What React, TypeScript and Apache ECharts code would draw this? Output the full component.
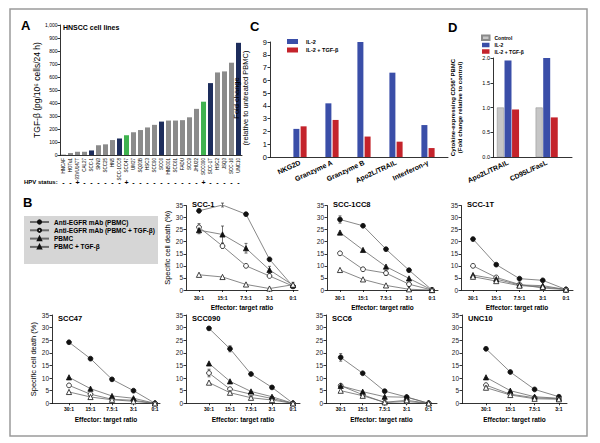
import React, { useEffect, useRef } from "react";
import * as echarts from "echarts";

const FONT = '"Liberation Sans", Arial, Helvetica, sans-serif';
const INK = "#000000";

// ---------- Panel A ----------
const cellLines = [
  "HNCAF", "HOTu1", "93VU147T", "CAL27", "SCC-1", "SKN3", "SCC25", "HN5", "SCC-1CC8", "SCC47",
  "UM27", "SQ20B", "HSC3", "SCC90", "SCC6", "HN5001", "SCC61", "FADU", "SCC9", "JHU22",
  "SCC090", "SCC-1T", "HSC2", "JSQ3", "SCC-16", "UNC10",
];
const tgfBeta = [3, 15, 25, 25, 35, 75, 82, 115, 127, 152, 175, 192, 212, 232, 257, 265, 265, 268, 290, 355, 410, 553, 635, 643, 710, 863];
const hpvStatus = ["-", "-", "+", "-", "-", "-", "-", "-", "-", "+", "-", "-", "-", "-", "-", "-", "-", "-", "-", "-", "+", "-", "-", "-", "-", "-"];
const aTicks = { min: 0, max: 1000, step: 100 };

// ---------- Panel C ----------
const cMarkers = ["NKG2D", "Granzyme A", "Granzyme B", "Apo2L/TRAIL", "Interferon-γ"];
const cIL2 = [2.2, 4.2, 9.0, 6.6, 2.5];
const cIL2TGF = [2.4, 2.9, 1.6, 1.2, 0.7];
const cYName = "Fold change\n(relative to untreated PBMC)";

// ---------- Panel D ----------
const dLigands = ["Apo2L/TRAIL", "CD95L/FasL"];
const dControl = [1.0, 1.0];
const dIL2 = [1.95, 2.0];
const dIL2TGF = [0.96, 0.8];

// ---------- Panel B ----------
const ratios = ["30:1", "15:1", "7.5:1", "3:1", "0:1"];
const unc10Ratios = ["30:1", "15:1", "7.5:1", "3:1"];
const bSeriesNames = ["Anti-EGFR mAb (PBMC)", "Anti-EGFR mAb (PBMC + TGF-β)", "PBMC", "PBMC + TGF-β"];
const bCellLines = ["SCC-1", "SCC-1CC8", "SCC-1T", "SCC47", "SCC090", "SCC6", "UNC10"];

const scc1Death = [
  [32.8, 35.2, 31.4, 12.7, 1.5],
  [26.0, 18.2, 10.0, 5.8, 1.6],
  [24.8, 23.0, 17.3, 8.3, 2.0],
  [6.3, 5.4, 2.3, 0.6, 2.2],
];
const scc1Err = [
  [0, 0.8, 0, 0, 0],
  [1.5, 1, 0, 0, 0],
  [1.5, 3.5, 2, 1.5, 0],
  [0, 0, 0, 0, 1],
];
const scc1cc8Death = [
  [29.2, 26.6, 16.9, 8.2, 0],
  [15.2, 8.6, 7.0, 2.4, 0],
  [23.8, 16.6, 9.7, 4.8, 0],
  [8.3, 4.4, 1.9, 0.3, 0],
];
const scc1cc8Err = [
  [1.5, 0, 0, 0, 0],
  [0, 0, 1, 0.8, 0],
  [0, 0, 0, 0, 0],
  [0, 0, 0, 0, 0],
];
const scc1tDeath = [
  [21.1, 10.5, 4.7, 4.0, 0.2],
  [10.0, 5.2, 2.3, 0.8, 0.2],
  [6.2, 4.5, 2.1, 1.8, 0.2],
  [5.5, 3.7, 1.8, 1.3, 0.2],
];
const scc47Death = [
  [24.2, 17.7, 9.5, 5.0, 0],
  [7.1, 3.6, 1.6, 1.2, 0],
  [10.3, 5.8, 2.9, 2.0, 0],
  [4.5, 2.5, 1.4, 0.8, 0],
];
const scc090Death = [
  [29.7, 21.6, 11.6, 6.3, 0],
  [12.0, 5.6, 3.6, 1.9, 0],
  [15.8, 8.7, 4.7, 2.6, 0],
  [8.2, 4.2, 2.2, 1.3, 0],
];
const scc090Err = [
  [0, 1.2, 0, 0, 0],
  [1.5, 0, 0, 0, 0],
  [0, 0, 0, 0, 0],
  [0, 0, 0, 0, 0],
];
const scc6Death = [
  [18.2, 11.9, 4.8, 2.5, 0],
  [7.0, 3.4, 0.3, 0.7, 0],
  [6.9, 4.6, 2.6, 2.4, 0],
  [5.0, 3.0, 0.4, 1.2, 0],
];
const scc6Err = [
  [1.5, 0, 0, 0, 0],
  [0, 0, 0, 0, 0],
  [0, 0, 0, 0, 0],
  [0, 0, 0, 0, 0],
];
const unc10Death = [
  [21.6, 12.4, 5.5, 2.6],
  [7.2, 3.6, 2.2, 1.8],
  [10.3, 5.0, 2.6, 2.0],
  [6.2, 3.3, 1.8, 1.6],
];
const bYTicks = { min: 0, max: 35, step: 5 };

const bPlots = [
  { name: bCellLines[0], cats: ratios, vals: scc1Death, err: scc1Err },
  { name: bCellLines[1], cats: ratios, vals: scc1cc8Death, err: scc1cc8Err },
  { name: bCellLines[2], cats: ratios, vals: scc1tDeath, err: null },
  { name: bCellLines[3], cats: ratios, vals: scc47Death, err: null },
  { name: bCellLines[4], cats: ratios, vals: scc090Death, err: scc090Err },
  { name: bCellLines[5], cats: ratios, vals: scc6Death, err: scc6Err },
  { name: bCellLines[6], cats: unc10Ratios, vals: unc10Death, err: null },
];

// layout (pixels) for the B panels
const bLayout = [
  { left: 186, right: 298, first: 199, step: 23.5, top: 205.5, bottom: 290, titleTop: 200, yName: true, labMargin: 5, nameGap: 13.5 },
  { left: 327, right: 438, first: 340, step: 23, top: 205.5, bottom: 290, titleTop: 200, yName: false, labMargin: 5, nameGap: 13.5 },
  { left: 461, right: 573, first: 473, step: 23.25, top: 205.5, bottom: 290, titleTop: 200, yName: false, labMargin: 5, nameGap: 13.5 },
  { left: 52, right: 160, first: 69, step: 21.5, top: 315, bottom: 403.3, titleTop: 314.5, yName: true, labMargin: 3.5, nameGap: 13 },
  { left: 186, right: 300, first: 209, step: 21, top: 315, bottom: 403.3, titleTop: 314.5, yName: false, labMargin: 3.5, nameGap: 13 },
  { left: 326, right: 437, first: 340.7, step: 22, top: 315, bottom: 403.3, titleTop: 314.5, yName: false, labMargin: 3.5, nameGap: 13 },
  { left: 462, right: 567, first: 486, step: 24.3, top: 315, bottom: 403.3, titleTop: 314.5, yName: false, labMargin: 3.5, nameGap: 13 },
];
// layout for C and D bar panels (value x-axis so the first group can sit away from the y axis)
const cLayout = { left: 270, right: 448, first: 300, step: 32, top: 42, bottom: 157 };
const dLayout = { left: 493, right: 572, first: 508, step: 38.7, top: 58, bottom: 157 };

const bStyles = [
  { symbol: "circle", fill: "#111", size: 4.8 },
  { symbol: "circle", fill: "#fff", size: 4.8 },
  { symbol: "triangle", fill: "#111", size: 5.2 },
  { symbol: "triangle", fill: "#fff", size: 5.2 },
];

const COLORS = {
  gray: "#8b8b8b",
  navy: "#1d2d5c",
  green: "#3fb34f",
  blue: "#3a4ea8",
  red: "#c4232b",
  control: "#c6c6c6",
};

function barColor(i: number) {
  const name = cellLines[i];
  if (bCellLines.includes(name)) return hpvStatus[i] === "+" ? COLORS.green : COLORS.navy;
  return COLORS.gray;
}

const lineSt = { color: INK, width: 0.8 };

function valueCatAxis(gi: number, L: any, cats: string[], label: any) {
  const idx = cats.map((_, i) => i);
  return {
    type: "value", gridIndex: gi,
    min: -(L.first - L.left) / L.step, max: (L.right - L.first) / L.step,
    axisLine: { onZero: false, lineStyle: lineSt },
    splitLine: { show: false },
    axisLabel: {
      customValues: idx, color: INK, fontFamily: FONT,
      formatter: (v: number) => cats[Math.round(v)] ?? "",
      ...label,
    },
  };
}

function buildOption() {
  const grid: any[] = [];
  const xAxis: any[] = [];
  const yAxis: any[] = [];
  const series: any[] = [];
  const title: any[] = [];

  // ---- A ----
  grid.push({ left: 60, top: 25, width: 182, height: 130 });
  xAxis.push({
    type: "category", gridIndex: 0, data: cellLines,
    axisTick: { show: false }, axisLine: { lineStyle: lineSt },
    axisLabel: { rotate: 90, interval: 0, fontSize: 4.5, margin: 3, color: INK, fontFamily: FONT },
  });
  xAxis.push({
    type: "category", gridIndex: 0, data: hpvStatus, position: "bottom", offset: 22,
    axisLine: { show: false }, axisTick: { show: false },
    axisLabel: { interval: 0, fontSize: 7, fontWeight: "bold", margin: 2, color: INK, fontFamily: FONT },
  });
  yAxis.push({
    type: "value", gridIndex: 0, min: aTicks.min, max: aTicks.max, interval: aTicks.step,
    name: "TGF-β (pg/10⁶ cells/24 h)", nameLocation: "middle", nameGap: 19,
    nameTextStyle: { fontSize: 8.5, color: INK, fontFamily: FONT },
    axisLine: { show: true, lineStyle: lineSt }, axisTick: { show: true, length: 2.5, lineStyle: lineSt },
    splitLine: { show: false },
    axisLabel: { fontSize: 5, margin: 2.5, color: INK, fontFamily: FONT, formatter: (v: number) => v.toLocaleString("en-US") },
  });
  series.push({
    type: "bar", name: "TGF-β", xAxisIndex: 0, yAxisIndex: 0, barWidth: 5,
    data: tgfBeta.map((v, i) => ({ value: v, itemStyle: { color: barColor(i) } })),
  });

  // ---- C ----
  grid.push({ left: cLayout.left, top: cLayout.top, width: cLayout.right - cLayout.left, height: cLayout.bottom - cLayout.top });
  xAxis.push({
    ...valueCatAxis(1, cLayout, cMarkers, { rotate: 25, fontSize: 7, fontWeight: "bold", margin: 5 }),
    axisTick: { show: false },
  });
  yAxis.push({
    type: "value", gridIndex: 1, min: 0, max: 9, interval: 1,
    axisLine: { show: true, onZero: false, lineStyle: lineSt }, axisTick: { show: true, length: 2.5, lineStyle: lineSt },
    splitLine: { show: false },
    axisLabel: { fontSize: 7.5, margin: 3, color: INK, fontFamily: FONT },
  });
  series.push({ type: "bar", name: "IL-2", xAxisIndex: 2, yAxisIndex: 1, barWidth: 6, barGap: "20%", itemStyle: { color: COLORS.blue }, data: cIL2.map((v, i) => [i, v]) });
  series.push({ type: "bar", name: "IL-2 + TGF-β", xAxisIndex: 2, yAxisIndex: 1, barWidth: 6, barGap: "20%", itemStyle: { color: COLORS.red }, data: cIL2TGF.map((v, i) => [i, v]) });

  // ---- D ----
  grid.push({ left: dLayout.left, top: dLayout.top, width: dLayout.right - dLayout.left, height: dLayout.bottom - dLayout.top });
  xAxis.push({
    ...valueCatAxis(2, dLayout, dLigands, { rotate: 25, fontSize: 7, fontWeight: "bold", margin: 5 }),
    axisTick: { show: false },
  });
  yAxis.push({
    type: "value", gridIndex: 2, min: 0, max: 2, interval: 0.5,
    name: "Cytokine-expressing CD56⁺ PBMC\n(Fold change relative to control)", nameLocation: "middle", nameGap: 30,
    nameTextStyle: { fontSize: 6, fontWeight: "bold", lineHeight: 7, color: INK, fontFamily: FONT },
    axisLine: { show: true, onZero: false, lineStyle: lineSt }, axisTick: { show: true, length: 2.5, lineStyle: lineSt },
    splitLine: { show: false },
    axisLabel: { fontSize: 5.5, margin: 3, color: INK, fontFamily: FONT, formatter: (v: number) => v.toFixed(1) },
  });
  series.push({ type: "bar", name: "Control", xAxisIndex: 3, yAxisIndex: 2, barWidth: 7, barGap: "8%", itemStyle: { color: COLORS.control, borderColor: "#8a8a8a", borderWidth: 0.5 }, data: dControl.map((v, i) => [i, v]) });
  series.push({ type: "bar", name: "IL-2", xAxisIndex: 3, yAxisIndex: 2, barWidth: 7, barGap: "8%", itemStyle: { color: COLORS.blue }, data: dIL2.map((v, i) => [i, v]) });
  series.push({ type: "bar", name: "IL-2 + TGF-β", xAxisIndex: 3, yAxisIndex: 2, barWidth: 7, barGap: "8%", itemStyle: { color: COLORS.red }, data: dIL2TGF.map((v, i) => [i, v]) });

  // ---- B ----
  bPlots.forEach((p, k) => {
    const L = bLayout[k];
    const gi = grid.length;
    grid.push({ left: L.left, top: L.top, width: L.right - L.left, height: L.bottom - L.top });
    const idx = p.cats.map((_, i) => i);
    const xi = xAxis.length;
    xAxis.push({
      ...valueCatAxis(gi, L, p.cats, { fontSize: 5, fontWeight: "bold", margin: L.labMargin }),
      name: "Effector: target ratio", nameLocation: "middle", nameGap: L.nameGap,
      nameTextStyle: { fontSize: 6.5, fontWeight: "bold", color: INK, fontFamily: FONT },
      axisTick: { show: true, length: 2, customValues: idx, lineStyle: lineSt },
    });
    const yi = yAxis.length;
    yAxis.push({
      type: "value", gridIndex: gi, min: bYTicks.min, max: bYTicks.max, interval: bYTicks.step,
      name: L.yName ? "Specific cell death (%)" : "", nameLocation: "middle", nameGap: 14,
      nameTextStyle: { fontSize: 7.5, color: INK, fontFamily: FONT },
      axisLine: { show: true, onZero: false, lineStyle: lineSt },
      axisTick: { show: true, length: 2.5, lineStyle: lineSt },
      splitLine: { show: false },
      axisLabel: { fontSize: 6.5, margin: 3, color: "#222", fontFamily: FONT },
    });
    if (p.err) {
      const errData: number[][] = [];
      p.err.forEach((row, s) => row.forEach((e, i) => { if (e > 0) errData.push([i, p.vals[s][i], e]); }));
      series.push({
        type: "custom", name: "err-" + p.name, xAxisIndex: xi, yAxisIndex: yi, z: 1, silent: true,
        encode: { x: 0, y: 1 },
        renderItem: (_params: any, api: any) => {
          const x = api.value(0), y = api.value(1), e = api.value(2);
          const t = api.coord([x, y + e]);
          const b = api.coord([x, y - e]);
          const st = { stroke: "#333", lineWidth: 0.7 };
          return {
            type: "group",
            children: [
              { type: "line", shape: { x1: t[0], y1: t[1], x2: b[0], y2: b[1] }, style: st },
              { type: "line", shape: { x1: t[0] - 1.5, y1: t[1], x2: t[0] + 1.5, y2: t[1] }, style: st },
              { type: "line", shape: { x1: b[0] - 1.5, y1: b[1], x2: b[0] + 1.5, y2: b[1] }, style: st },
            ],
          };
        },
        data: errData,
      });
    }
    p.vals.forEach((vals, s) => {
      const st = bStyles[s];
      series.push({
        type: "line", name: bSeriesNames[s], xAxisIndex: xi, yAxisIndex: yi, z: 2,
        symbol: st.symbol, symbolSize: st.size, showAllSymbol: true,
        lineStyle: { color: "#6a6a6a", width: 0.8 },
        itemStyle: { color: st.fill, borderColor: "#111", borderWidth: 0.8 },
        data: vals.map((v, i) => [i, v]),
      });
    });
    title.push({
      text: p.name, left: L.left + 6, top: L.titleTop, padding: 0,
      textStyle: { fontSize: 7.5, fontWeight: "bold", color: INK, fontFamily: FONT },
    });
  });

  const letter = (t: string, left: number, top: number) => ({
    text: t, left, top, padding: 0, textStyle: { fontSize: 13, fontWeight: "bold", color: INK, fontFamily: FONT },
  });
  title.push(letter("A", 21, 19), letter("B", 23, 196), letter("C", 250, 20), letter("D", 448, 21));
  title.push({ text: "HNSCC cell lines", left: 63, top: 24, padding: 0, textStyle: { fontSize: 7, fontWeight: "bold", color: INK, fontFamily: FONT } });
  title.push({ text: "HPV status:", left: 24, top: 178.5, padding: 0, textStyle: { fontSize: 6, fontWeight: "bold", color: INK, fontFamily: FONT } });

  const legend = [
    {
      data: ["IL-2", "IL-2 + TGF-β"], left: 287, top: 38.5, orient: "vertical", icon: "rect",
      itemWidth: 11, itemHeight: 5, itemGap: 2.5, selectedMode: false, padding: 0,
      textStyle: { fontSize: 5.5, fontWeight: "bold", color: INK, fontFamily: FONT, padding: [0, 0, 0, 3] },
    },
    {
      data: ["Control", "IL-2", "IL-2 + TGF-β"], left: 481, top: 34.5, orient: "vertical", icon: "rect",
      itemWidth: 7.5, itemHeight: 4.5, itemGap: 1.5, selectedMode: false, padding: 0,
      textStyle: { fontSize: 5, fontWeight: "bold", color: INK, fontFamily: FONT },
    },
    {
      data: bSeriesNames, left: 29, top: 218.5, orient: "vertical",
      itemWidth: 19, itemHeight: 4, itemGap: 1.3, selectedMode: false, padding: 0,
      textStyle: { fontSize: 6.5, lineHeight: 7, fontWeight: "bold", color: INK, fontFamily: FONT },
    },
  ];

  const graphic = [
    { type: "rect", z: 0, shape: { x: 10, y: 9, width: 577, height: 427 }, style: { fill: "none", stroke: "#9a9a9a", lineWidth: 1.5 } },
    { type: "rect", z: 0, shape: { x: 24, y: 216, width: 134, height: 48 }, style: { fill: "#d6d6d6" } },
    {
      type: "text", x: 241, y: 98, rotation: Math.PI / 2, z: 5,
      style: { text: cYName, align: "center", verticalAlign: "middle", fontSize: 7.5, lineHeight: 8.5, fill: INK, fontFamily: FONT },
    },
  ];

  return {
    animation: false,
    backgroundColor: "#fff",
    textStyle: { fontFamily: FONT, color: INK },
    grid, xAxis, yAxis, series, title, legend, graphic,
  };
}

export default function App() {
  const ref = useRef<HTMLDivElement>(null);
  useEffect(() => {
    const chart = echarts.init(ref.current!, undefined, { renderer: "svg" });
    chart.setOption(buildOption() as any);
    return () => chart.dispose();
  }, []);
  return <div ref={ref} style={{ position: "absolute", left: 0, top: 0, width: 600, height: 443 }} />;
}
